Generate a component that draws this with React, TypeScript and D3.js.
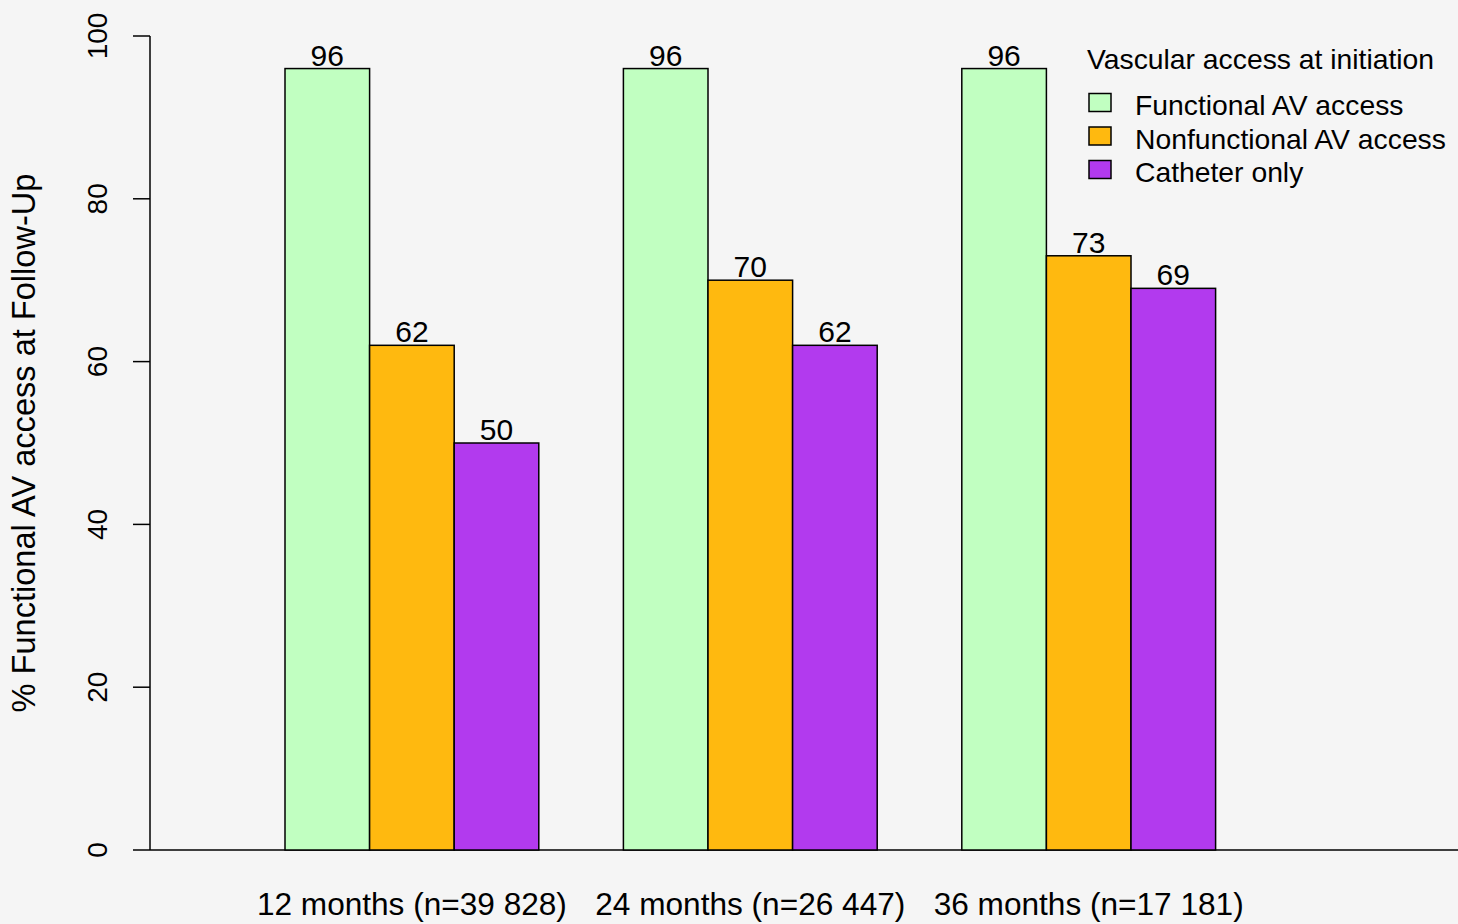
import React, { useEffect } from "react";
import * as d3 from "d3";

const groups = ["12 months (n=39 828)", "24 months (n=26 447)", "36 months (n=17 181)"];
const seriesNames = ["Functional AV access", "Nonfunctional AV access", "Catheter only"];
const seriesColors = ["#C1FFC1", "#FFB90F", "#B23AEE"];
const functionalValues = [96, 96, 96];
const nonfunctionalValues = [62, 70, 73];
const catheterValues = [50, 62, 69];
const yTicks = [0, 20, 40, 60, 80, 100];
const legendTitle = "Vascular access at initiation";
const yTitle = "% Functional AV access at Follow-Up";

const W = 1458;
const H = 924;

export default function App() {
  useEffect(() => {
    document.body.style.margin = "0";
    document.body.style.background = "#F5F5F5";
  }, []);

  const series = [functionalValues, nonfunctionalValues, catheterValues];
  // bar units: group g, bar i -> unit 1 + 4g + i
  const x = d3.scaleLinear().domain([0, 1]).range([200.4, 285.0]);
  const y = d3.scaleLinear().domain([0, 100]).range([850, 36]);
  const font = "Liberation Sans, Arial, sans-serif";

  const bars: any[] = [];
  groups.forEach((g, gi) => {
    series.forEach((vals, si) => {
      const u = 1 + 4 * gi + si;
      bars.push({ x0: x(u), x1: x(u + 1), v: vals[gi], color: seriesColors[si], key: `${gi}-${si}` });
    });
  });

  return (
    <svg width={W} height={H} style={{ display: "block", background: "#F5F5F5" }} fontFamily={font}>
      <rect x={0} y={0} width={W} height={H} fill="#F5F5F5" />
      {/* y axis */}
      <line x1={150} x2={150} y1={y(100)} y2={y(0)} stroke="#000" strokeWidth={1.5} />
      {yTicks.map((t) => (
        <g key={t}>
          <line x1={133} x2={150} y1={y(t)} y2={y(t)} stroke="#000" strokeWidth={1.5} />
          <text
            transform={`translate(${107},${y(t)}) rotate(-90)`}
            textAnchor="middle"
            fontSize={28}
            fill="#000"
          >
            {t}
          </text>
        </g>
      ))}
      {/* baseline */}
      <line x1={150} x2={W} y1={y(0)} y2={y(0)} stroke="#000" strokeWidth={1.5} />
      {/* y title */}
      <text
        transform={`translate(${35},${(y(0) + y(100)) / 2}) rotate(-90)`}
        textAnchor="middle"
        fontSize={32.6}
        fill="#000"
      >
        {yTitle}
      </text>
      {/* bars */}
      {bars.map((b) => (
        <g key={b.key}>
          <rect
            x={b.x0}
            y={y(b.v)}
            width={b.x1 - b.x0}
            height={y(0) - y(b.v)}
            fill={b.color}
            stroke="#000"
            strokeWidth={1.5}
          />
          <text x={(b.x0 + b.x1) / 2} y={y(b.v) - 3} textAnchor="middle" fontSize={30} fill="#000">
            {b.v}
          </text>
        </g>
      ))}
      {/* x labels */}
      {groups.map((g, gi) => (
        <text key={g} x={x(2.5 + 4 * gi)} y={915} textAnchor="middle" fontSize={31.6} fill="#000">
          {g}
        </text>
      ))}
      {/* legend */}
      <text x={1087} y={69} fontSize={28.3} fill="#000">
        {legendTitle}
      </text>
      {seriesNames.map((n, i) => {
        const cy = 102.5 + i * 33.5;
        return (
          <g key={n}>
            <rect x={1089} y={cy - 9} width={22} height={18} fill={seriesColors[i]} stroke="#000" strokeWidth={1.5} />
            <text x={1135} y={cy + 12.5} fontSize={28.3} fill="#000">
              {n}
            </text>
          </g>
        );
      })}
    </svg>
  );
}
